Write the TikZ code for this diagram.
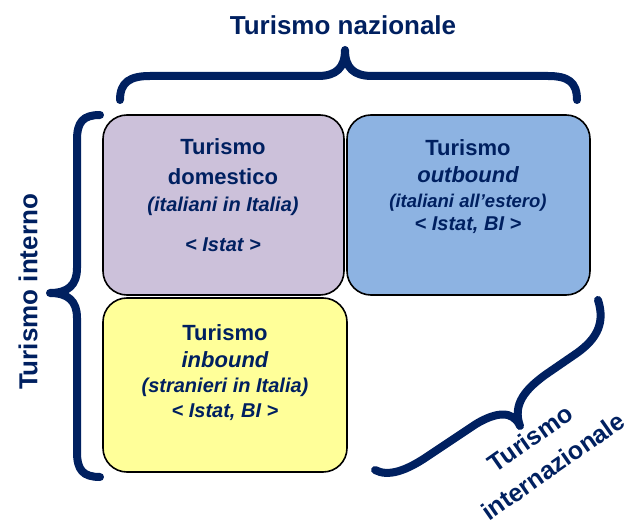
\documentclass[tikz,border=0pt]{standalone}
\usepackage{fontspec}
\setmainfont{Liberation Sans}
\definecolor{navy}{HTML}{002060}
\definecolor{lav}{HTML}{CCC1DA}
\definecolor{skyb}{HTML}{8DB3E2}
\definecolor{ylw}{HTML}{FFFF99}
\tikzset{
  box/.style={draw=black, line width=1.6pt, rounded corners=24pt, inner sep=0pt},
  brace/.style={draw=navy, line width=8pt, line cap=round, line join=round},
  hd/.style={text=navy, font=\fontsize{22}{26}\selectfont\bfseries, anchor=base, inner sep=0pt},
  sb/.style={text=navy, font=\fontsize{20}{24}\selectfont\bfseries\itshape, anchor=base, inner sep=0pt},
  lbl/.style={text=navy, font=\fontsize{26}{30}\selectfont\bfseries, inner sep=0pt}
}
\begin{document}
\begin{tikzpicture}[x=1pt,y=-1pt]
\useasboundingbox (0,0) rectangle (629,529);
% boxes
\node[box, fill=lav, minimum width=241pt, minimum height=180pt] (dom) at (223.5,205) {};
\node[box, fill=skyb, minimum width=243pt, minimum height=180pt] (out) at (468.5,205) {};
\node[box, fill=ylw, minimum width=244pt, minimum height=174pt] (inb) at (225,385) {};
% domestic text
\node[hd] (d1) at (223,155) {Turismo};
\node[hd] (d2) at (223,185) {domestico};
\node[sb] (d3) at (223,212) {(italiani in Italia)};
\node[sb] (d4) at (223,252) {< Istat >};
% outbound text
\node[hd] (o1) at (468,156) {Turismo};
\node[hd, font=\fontsize{22}{26}\selectfont\bfseries\itshape] (o2) at (468,183) {outbound};
\node[sb, font=\fontsize{18.5}{22}\selectfont\bfseries\itshape] (o3) at (468,208) {(italiani all’estero)};
\node[sb] (o4) at (468,231) {< Istat, BI >};
% inbound text
\node[hd] (i1) at (225,340) {Turismo};
\node[hd, font=\fontsize{22}{26}\selectfont\bfseries\itshape] (i2) at (225,367) {inbound};
\node[sb] (i3) at (225,392) {(stranieri in Italia)};
\node[sb] (i4) at (225,417) {< Istat, BI >};
% labels
\node[lbl, anchor=base] (naz) at (343,35) {Turismo nazionale};
\node[lbl, rotate=90] (int) at (28,292) {Turismo interno};
\node[lbl, rotate=35, font=\fontsize{25}{30}\selectfont\bfseries] (tur) at (530,438) {Turismo};
\node[lbl, rotate=35, font=\fontsize{25}{30}\selectfont\bfseries] (inz) at (553,466) {internazionale};
% braces
\draw[brace] (120,100) .. controls (120,82) and (130,76) .. (150,76) -- (318,76)
  .. controls (336,76) and (345,68) .. (345,50)
  .. controls (345,68) and (354,76) .. (372,76) -- (548,76)
  .. controls (568,76) and (577,82) .. (577,100);
\draw[brace] (100,115) .. controls (83,115) and (77,122) .. (77,140) -- (77,268)
  .. controls (77,285) and (68,293) .. (50,293)
  .. controls (68,293) and (77,301) .. (77,318) -- (77,452)
  .. controls (77,470) and (83,477) .. (100,477);
\draw[brace] (598,300) .. controls (605,322) and (598,338) .. (577,353) -- (545,375)
  .. controls (526,389) and (512,404) .. (520,426)
  .. controls (513,410) and (496,412) .. (476,424) -- (428,456)
  .. controls (406,471) and (388,477) .. (375,470);
\end{tikzpicture}
\end{document}
